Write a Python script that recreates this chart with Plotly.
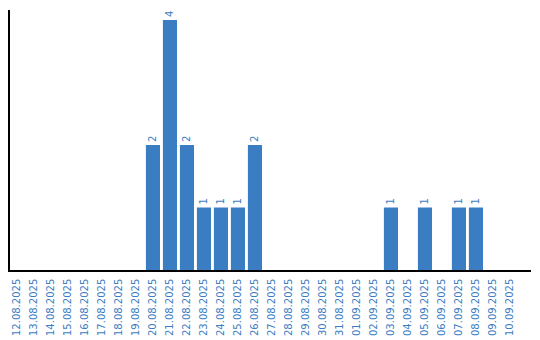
import plotly.graph_objects as go

dates = ["12.08.2025", "13.08.2025", "14.08.2025", "15.08.2025", "16.08.2025",
         "17.08.2025", "18.08.2025", "19.08.2025", "20.08.2025", "21.08.2025",
         "22.08.2025", "23.08.2025", "24.08.2025", "25.08.2025", "26.08.2025",
         "27.08.2025", "28.08.2025", "29.08.2025", "30.08.2025", "31.08.2025",
         "01.09.2025", "02.09.2025", "03.09.2025", "04.09.2025", "05.09.2025",
         "06.09.2025", "07.09.2025", "08.09.2025", "09.09.2025", "10.09.2025"]
counts = [0, 0, 0, 0, 0, 0, 0, 0, 2, 4,
          2, 1, 1, 1, 2, 0, 0, 0, 0, 0,
          0, 0, 1, 0, 1, 0, 1, 1, 0, 0]

blue = "#3a7dc3"
labels = [str(v) if v else "" for v in counts]

fig = go.Figure(go.Bar(
    x=dates, y=counts, marker_color=blue, marker_line_width=0,
    text=labels, textposition="outside", textangle=-90,
    textfont=dict(family="DejaVu Sans", size=10, color=blue),
    cliponaxis=False,
))
fig.update_layout(
    width=540, height=340,
    margin=dict(l=10, r=9, t=10, b=70),
    paper_bgcolor="white", plot_bgcolor="white",
    bargap=0.17, showlegend=False,
    font=dict(family="DejaVu Sans", size=10, color=blue),
)
fig.update_xaxes(type="category", range=[-0.41, 30.24], showline=True,
                 linecolor="black", linewidth=1.5, ticks="", tickangle=-90,
                 ticklabelstandoff=3, automargin=False,
                 tickfont=dict(family="DejaVu Sans", size=10, color=blue),
                 showgrid=False, zeroline=False)
fig.update_yaxes(range=[0, 4.16], showline=True, linecolor="black", linewidth=1.5,
                 automargin=False,
                 showticklabels=False, ticks="", showgrid=False, zeroline=False)
fig.write_html("out.html")
